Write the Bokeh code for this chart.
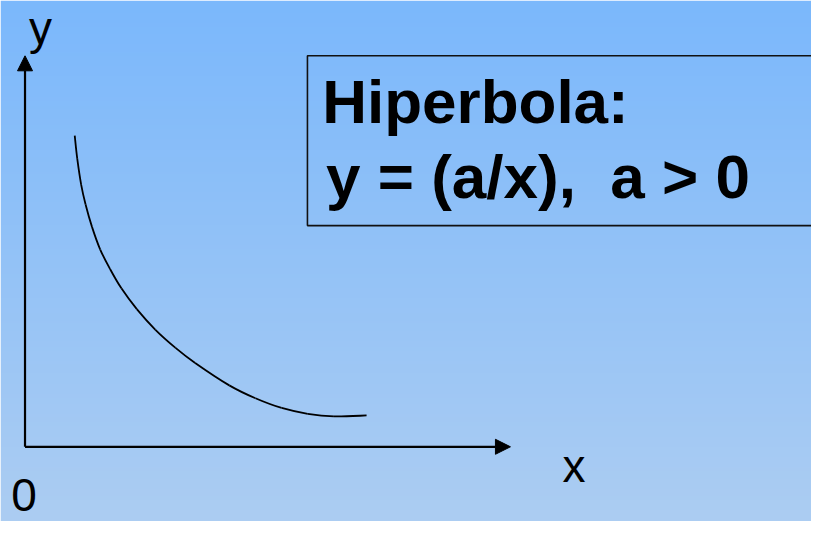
import numpy as np
from bokeh.plotting import figure
from bokeh.models import Range1d, Arrow, NormalHead
from bokeh.core.properties import value
from bokeh.embed import file_html
from bokeh.resources import INLINE

# --- data (origin of the drawn axes at 0,0) ---
curve_x = [50.7, 53.3, 57.3, 61.7, 68.3, 76.7, 86.7, 98.3, 114.0, 133.0, 153.5,
           173.5, 208.3, 235.0, 261.7, 288.3, 315.0, 348.3]
curve_y = [320.7, 296.7, 270.0, 250.0, 226.7, 203.3, 183.3, 163.3, 141.9, 120.6,
           102.0, 86.4, 63.3, 50.0, 40.0, 34.0, 31.3, 32.3]

axis_labels = ["y", "x", "0"]
axis_label_x = [4, 548, -14]
axis_label_y = [432, -20, -50]

title_lines = ["Hiperbola:", "y = (a/x),\u00a0 a > 0"]
title_x = [303, 307]
title_y = [356, 279]

box_left, box_right, box_bottom, box_top = 288, 830, 228, 403
x_axis_end, y_axis_end = 495, 403

# --- figure ---
p = figure(width=811, height=521, output_backend="svg", toolbar_location=None,
           x_range=Range1d(-25, 802), y_range=Range1d(-77, 460),
           min_border=0, border_fill_color=None)
p.axis.visible = False
p.grid.visible = False
p.outline_line_color = None

# background gradient
top = np.array([123, 184, 252])
bot = np.array([172, 205, 242])
n = 256
t = np.linspace(0, 1, n)[:, None]
cols = (bot * (1 - t) + top * t).astype(np.uint32)
img = np.empty((n, 1), dtype=np.uint32)
view = img.view(dtype=np.uint8).reshape((n, 1, 4))
view[:, 0, 0] = cols[:, 0]
view[:, 0, 1] = cols[:, 1]
view[:, 0, 2] = cols[:, 2]
view[:, 0, 3] = 255
p.image_rgba(image=[img], x=-25, y=-77, dw=827, dh=537)

# hyperbola curve: smooth Catmull-Rom bezier through the read points
px = [curve_x[0]] + curve_x + [curve_x[-1]]
py = [curve_y[0]] + curve_y + [curve_y[-1]]
x0, y0, x1, y1, cx0, cy0, cx1, cy1 = ([] for _ in range(8))
for i in range(1, len(px) - 2):
    x0.append(px[i]); y0.append(py[i])
    x1.append(px[i + 1]); y1.append(py[i + 1])
    cx0.append(px[i] + (px[i + 1] - px[i - 1]) / 6)
    cy0.append(py[i] + (py[i + 1] - py[i - 1]) / 6)
    cx1.append(px[i + 1] - (px[i + 2] - px[i]) / 6)
    cy1.append(py[i + 1] - (py[i + 2] - py[i]) / 6)
p.bezier(x0=x0, y0=y0, x1=x1, y1=y1, cx0=cx0, cy0=cy0, cx1=cx1, cy1=cy1,
         line_color="black", line_width=1.8)

# axes with arrows
head_kw = dict(size=15, fill_color="black", line_color="black")
p.add_layout(Arrow(end=NormalHead(**head_kw), x_start=0, y_start=0,
                   x_end=0, y_end=y_axis_end, line_width=2.2, line_color="black"))
p.add_layout(Arrow(end=NormalHead(**head_kw), x_start=0, y_start=0,
                   x_end=x_axis_end, y_end=0, line_width=2.2, line_color="black"))

# axis labels
p.text(x=axis_label_x, y=axis_label_y, text=axis_labels,
       text_font=value("Liberation Sans"), text_font_size="46px",
       text_color="black", text_baseline="alphabetic", text_align="left")

# boxed title
p.quad(left=[box_left], right=[box_right], bottom=[box_bottom], top=[box_top],
       fill_color=None, line_color="#111111", line_width=1.6)
p.text(x=title_x, y=title_y, text=title_lines,
       text_font=value("Liberation Sans"), text_font_size="62px",
       text_font_style="bold", text_color="black",
       text_baseline="alphabetic", text_align="left")

open("out.html", "w").write(file_html(p, INLINE))
